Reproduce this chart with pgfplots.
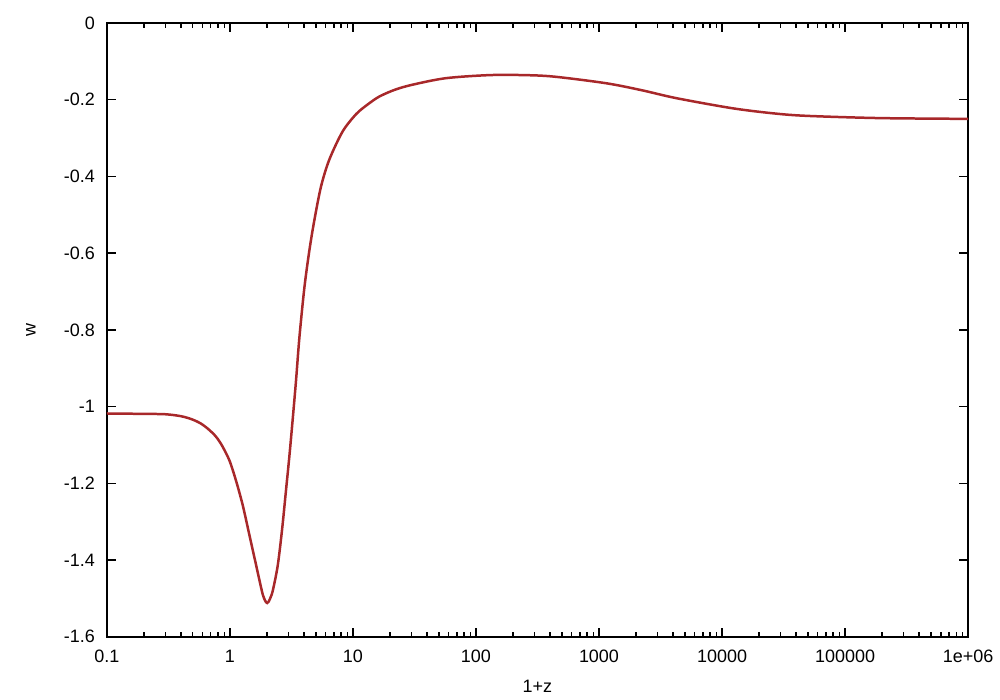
\documentclass[border=0pt]{standalone}
\usepackage{fontspec}
\setmainfont{Liberation Sans}
\usepackage{pgfplots}
\pgfplotsset{compat=1.18}
\usetikzlibrary{calc}
\definecolor{wcurve}{RGB}{168,40,42}

\pgfplotstableread{
x w
0.1 -1.018
0.2 -1.019
0.3 -1.020
0.4 -1.025
0.49 -1.033
0.58 -1.044
0.67 -1.059
0.77 -1.078
0.865 -1.102
0.994 -1.141
1.127 -1.195
1.275 -1.258
1.445 -1.336
1.637 -1.414
1.75 -1.456
1.852 -1.490
1.93 -1.505
1.97 -1.510
2.011 -1.512
2.06 -1.509
2.12 -1.501
2.233 -1.480
2.451 -1.414
2.661 -1.319
2.867 -1.215
3.050 -1.128
3.243 -1.033
3.455 -0.930
3.676 -0.820
4.035 -0.690
4.430 -0.593
4.864 -0.514
5.512 -0.426
6.438 -0.356
8.25 -0.283
10.6 -0.238
13 -0.214
16.37 -0.192
22 -0.174
30.5 -0.161
56.9 -0.144
127.6 -0.136
250 -0.136
434 -0.140
1135 -0.157
2200 -0.175
4246 -0.196
11940 -0.222
25000 -0.235
47500 -0.242
190000 -0.248
1000000 -0.250
}\wdata

\begin{document}
\begin{tikzpicture}
\begin{axis}[name=ax, xmode=log, scale only axis, width=431.5pt, height=307.5pt,
  xmin=0.1, xmax=1e6, ymin=-1.6, ymax=0,
  xtick={0.1,1,10,100,1000,10000,100000,1000000},
  xticklabels={0.1,1,10,100,1000,10000,100000,1e+06},
  ytick={0,-0.2,-0.4,-0.6,-0.8,-1,-1.2,-1.4,-1.6},
  yticklabels={0,-0.2,-0.4,-0.6,-0.8,-1,-1.2,-1.4,-1.6},
  tick align=inside, major tick length=4.5pt, minor tick length=2.5pt,
  axis line style={line width=0.9pt}, tick style={line width=0.7pt, black},
  ticklabel style={font=\fontsize{9}{10}\selectfont},
  xticklabel style={yshift=-3pt}, yticklabel style={xshift=-2.5pt},
  label style={font=\fontsize{9}{10}\selectfont},
  xlabel={1+z}, ylabel={w},
  xlabel style={at={(axis description cs:0.5,0)}, anchor=center, yshift=-25pt},
  ylabel style={at={(axis description cs:0,0.5)}, anchor=center, yshift=38pt},
  clip=true]
\addplot[wcurve, line width=1.25pt, smooth, tension=0.5] table[x=x, y=w] {\wdata};
\end{axis}
\path[use as bounding box] ($(ax.south west)+(-53.5pt,-31pt)$) rectangle ($(ax.north east)+(15pt,11.5pt)$);
\end{tikzpicture}
\end{document}
